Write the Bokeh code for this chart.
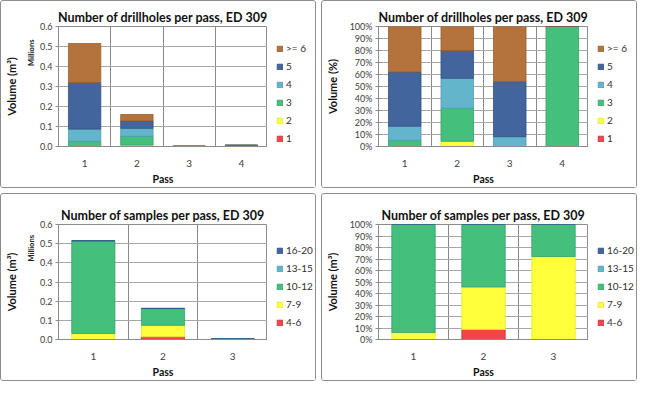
from bokeh.plotting import figure
from bokeh.models import (ColumnDataSource, Legend, LegendItem, FixedTicker,
                          NumeralTickFormatter, Range1d, LinearAxis)
from bokeh.layouts import row, column
from bokeh.embed import file_html
from bokeh.resources import INLINE

# ---------------- data ----------------
# Drillholes per pass: volume (millions of m3) by number-of-drillholes class
dh_passes = [1, 2, 3, 4]
dh_labels = ["1", "2", "3", "4", "5", ">= 6"]
dh_1 = [0.0, 0.0, 0.0, 0.0]
dh_2 = [0.0, 0.007, 0.0, 0.0]
dh_3 = [0.026, 0.044, 0.0, 0.006]
dh_4 = [0.061, 0.040, 0.00025, 0.0]
dh_5 = [0.233, 0.037, 0.0014, 0.0]
dh_6 = [0.195, 0.032, 0.0014, 0.0]

# Samples per pass: volume (millions of m3) by number-of-samples class
s_passes = [1, 2, 3]
s_labels = ["4-6", "7-9", "10-12", "13-15", "16-20"]
s_4_6 = [0.0, 0.014, 0.0]
s_7_9 = [0.031, 0.060, 0.0022]
s_10_12 = [0.484, 0.088, 0.00085]
s_13_15 = [0.0, 0.0, 0.0]
s_16_20 = [0.0, 0.0, 0.0]

vol_ticks = [0.0, 0.1, 0.2, 0.3, 0.4, 0.5, 0.6]
pct_ticks = [0.0, 0.1, 0.2, 0.3, 0.4, 0.5, 0.6, 0.7, 0.8, 0.9, 1.0]

# ---------------- style ----------------
RED, YEL, GRN, LBL, BLU, BRN = "#F0454A", "#FFFF3C", "#45C07C", "#62B5CA", "#41659C", "#B4733C"
RED_L, YEL_L, GRN_L, LBL_L, BLU_L, BRN_L = "#C8343A", "#E6E62A", "#35A066", "#4D9DB2", "#33507F", "#9A5F2E"
dh_colors = [RED, YEL, GRN, LBL, BLU, BRN]
dh_lines = [RED_L, YEL_L, GRN_L, LBL_L, BLU_L, BRN_L]
s_colors = [RED, YEL, GRN, LBL, BLU]
s_lines = [RED_L, YEL_L, GRN_L, LBL_L, BLU_L]

FONT = "Lato"
TXT = "#404040"
CW, LW, H = 266, 48, 186
GRID_H = "#a8a8a8"
GRID_V = "#8a8a8a"
AX = "#8c8c8c"
LH, LS = 13, 5


def make_source(xs, cols, percent):
    keys = ["c%d" % i for i in range(len(cols))]
    data = {"x": xs}
    if percent:
        tot = [sum(c[i] for c in cols) for i in range(len(xs))]
        for k, c in zip(keys, cols):
            data[k] = [c[i] / tot[i] for i in range(len(xs))]
    else:
        for k, c in zip(keys, cols):
            data[k] = c
    return keys, ColumnDataSource(data)


def chart(title, xs, keys, src, colors, lines, percent, ylabel, millions, top, bottom):
    ticks = pct_ticks if percent else vol_ticks
    p = figure(width=CW, height=H, output_backend="svg", toolbar_location=None,
               x_range=Range1d(xs[0] - 0.5, xs[-1] + 0.5),
               y_range=Range1d(0, ticks[-1]),
               min_border_left=48, min_border_right=0, min_border_top=top,
               min_border_bottom=bottom, title=title)
    p.vbar_stack(keys, x="x", width=0.62, source=src, fill_color=colors,
                 line_color=lines, line_width=0.8)

    p.title.text_font = FONT
    p.title.text_font_size = "12.5px"
    p.title.text_font_style = "bold"
    p.title.align = "center"
    p.title.standoff = 3
    p.title.text_color = "#111111"

    p.outline_line_color = AX
    p.ygrid.ticker = FixedTicker(ticks=ticks)
    p.ygrid.grid_line_color = GRID_H
    p.xgrid.ticker = FixedTicker(ticks=[x + 0.5 for x in xs[:-1]])
    p.xgrid.grid_line_color = GRID_V

    ya = p.yaxis[0]
    ya.ticker = FixedTicker(ticks=ticks)
    ya.formatter = NumeralTickFormatter(format="0%" if percent else "0.0")
    ya.major_label_text_font = FONT
    ya.major_label_text_font_size = "9px"
    ya.major_label_text_color = TXT
    ya.major_tick_out = 3
    ya.major_tick_in = 3 if percent else 0
    ya.minor_tick_line_color = None
    ya.major_tick_line_color = AX
    ya.axis_line_color = AX
    ya.major_label_standoff = 3

    if millions:
        m_ax = LinearAxis(ticker=FixedTicker(ticks=[]),
                          axis_line_color=None, major_tick_line_color=None,
                          minor_tick_line_color=None, major_tick_out=0,
                          major_label_standoff=0,
                          axis_label="\u2003" * 12 + "Millions",
                          axis_label_standoff=1, axis_label_text_font=FONT,
                          axis_label_text_font_size="7.5px",
                          axis_label_text_font_style="bold",
                          axis_label_text_color="#222222")
        p.add_layout(m_ax, "left")
    v_ax = LinearAxis(ticker=FixedTicker(ticks=[]), axis_line_color=None,
                      major_tick_line_color=None, minor_tick_line_color=None,
                      major_tick_out=0, major_label_standoff=0,
                      axis_label=ylabel,
                      axis_label_standoff=6 if millions else 8,
                      axis_label_text_font=FONT, axis_label_text_font_size="11px",
                      axis_label_text_font_style="bold",
                      axis_label_text_color="#111111")
    p.add_layout(v_ax, "left")

    xa = p.xaxis[0]
    xa.ticker = FixedTicker(ticks=xs)
    xa.major_label_text_font = FONT
    xa.major_label_text_font_size = "10px"
    xa.major_label_text_color = TXT
    xa.major_tick_line_color = None
    xa.minor_tick_line_color = None
    xa.axis_line_color = AX
    xa.major_label_standoff = 7
    xa.axis_label = "Pass"
    xa.axis_label_text_font = FONT
    xa.axis_label_text_font_size = "10.5px"
    xa.axis_label_text_font_style = "bold"
    xa.axis_label_text_color = "#111111"
    xa.axis_label_standoff = 3
    return p


def legend_fig(labels, keys, src, colors, lines, top, bottom, center_from_top):
    # same top/bottom borders as the chart so the row keeps the frames aligned;
    # the legend's own stacked bars use the same data but lie outside the view
    lp = figure(width=LW, height=H, output_backend="svg", toolbar_location=None,
                min_border_left=9, min_border_right=0,
                min_border_top=top, min_border_bottom=bottom,
                x_range=Range1d(-3, -2), y_range=Range1d(0, 1),
                x_axis_location=None, y_axis_location=None)
    lp.grid.visible = False
    lp.outline_line_color = None
    rs = lp.vbar_stack(keys, x="x", width=0.62, source=src, fill_color=colors,
                       line_color=lines, line_width=0.8)
    items = [LegendItem(label=lab, renderers=[r]) for lab, r in zip(labels, rs)][::-1]
    n = len(items)
    lh = n * LH + (n - 1) * LS
    y0 = (H - bottom) - center_from_top - lh / 2
    leg = Legend(items=items, location=(0, y0),
                 border_line_alpha=0, background_fill_alpha=0,
                 glyph_width=7, glyph_height=7, label_height=LH, spacing=LS,
                 padding=0, margin=0, label_standoff=3, label_text_font=FONT,
                 label_text_font_size="10px", label_text_color="#303030")
    lp.add_layout(leg)
    return lp


def panel(title, xs, labels, cols, colors, lines, percent, ylabel, millions,
          top, bottom, center):
    keys, src = make_source(xs, cols, percent)
    ch = chart(title, xs, keys, src, colors, lines, percent, ylabel, millions, top, bottom)
    lg = legend_fig(labels, keys, src, colors, lines, top, bottom, center)
    r = row(ch, lg, spacing=0)
    r.styles = {"border": "1px solid #8c8c8c", "border-radius": "3px"}
    return r


dh_cols = [dh_1, dh_2, dh_3, dh_4, dh_5, dh_6]
s_cols = [s_4_6, s_7_9, s_10_12, s_13_15, s_16_20]

p1 = panel("Number of drillholes per pass, ED 309", dh_passes, dh_labels, dh_cols,
           dh_colors, dh_lines, False, "Volume (m³)", True, 25, 41, 92)
p2 = panel("Number of drillholes per pass, ED 309", dh_passes, dh_labels, dh_cols,
           dh_colors, dh_lines, True, "Volume (%)", False, 25, 41, 92)
p3 = panel("Number of samples per pass, ED 309", s_passes, s_labels, s_cols,
           s_colors, s_lines, False, "Volume (m³)", True, 30, 40, 93)
p4 = panel("Number of samples per pass, ED 309", s_passes, s_labels, s_cols,
           s_colors, s_lines, True, "Volume (m³)", False, 30, 40, 93)

layout = column(row(p1, p2, spacing=5), row(p3, p4, spacing=5), spacing=5)
open("out.html", "w").write(file_html(layout, INLINE))
